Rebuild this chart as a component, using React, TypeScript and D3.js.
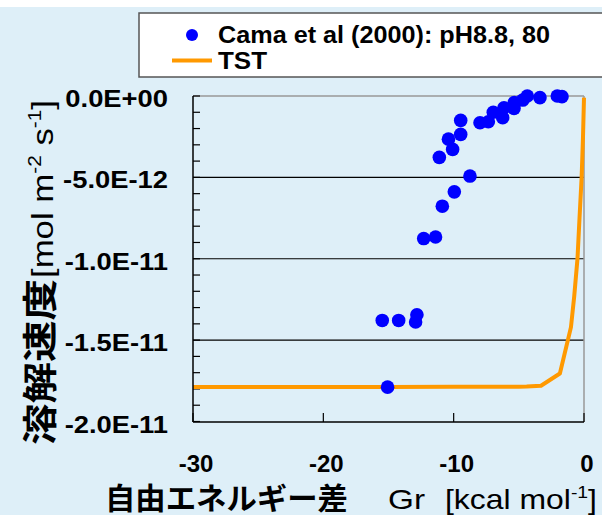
import React from 'react';
import * as d3 from 'd3';

// Cama et al (2000): pH8.8, 80 -- measured points
const camaDeltaG = [-2.05, -1.69, -3.38, -4.35, -4.7, -5.35, -5.37, -6.14, -6.24, -6.96, -7.34, -7.98,
  -9.46, -9.46, -10.4, -10.08, -11.1, -8.75, -9.95, -10.87, -11.39, -12.3, -12.82, -12.92, -14.22, -15.48, -15.07];
const camaRate = [0, -0.04e-12, -0.1e-12, 0, -0.25e-12, -0.41e-12, -0.76e-12, -0.72e-12, -1.33e-12, -1.0e-12,
  -1.58e-12, -1.64e-12, -1.5e-12, -2.36e-12, -2.65e-12, -3.28e-12, -3.77e-12, -4.92e-12, -5.89e-12, -6.77e-12,
  -8.66e-12, -8.76e-12, -13.44e-12, -13.89e-12, -13.79e-12, -13.79e-12, -17.89e-12];

// TST curve
const tstDeltaG = [-30, -25, -20, -15, -10, -5, -4.4, -3.3, -1.85, -1.0, -0.75, -0.5, -0.35, -0.18, -0.08, 0];
const tstRate = [-17.88e-12, -17.88e-12, -17.88e-12, -17.88e-12, -17.87e-12, -17.86e-12, -17.85e-12, -17.8e-12,
  -17.05e-12, -14.2e-12, -12.3e-12, -10.0e-12, -7.6e-12, -4.97e-12, -2.6e-12, -0.1e-12];

const xTicks = [-30, -20, -10, 0];
const yTicks = [0, -5e-12, -1e-11, -1.5e-11, -2e-11];
const yTickLabels = ['0.0E+00', '-5.0E-12', '-1.0E-11', '-1.5E-11', '-2.0E-11'];

const bg = '#DEEFF8';
const orange = '#FF9900';
const blue = '#0000FF';
const sans = '"Liberation Sans", Arial, sans-serif';
const cjk = '"Noto Sans CJK JP", "Liberation Sans", sans-serif';

export default function App() {
  const plot = { left: 193, right: 584, top: 96, bottom: 422 };

  const x = d3.scaleLinear().domain([-30, 0]).range([plot.left, plot.right]);
  const y = d3.scaleLinear().domain([-2e-11, 0]).range([421.5, plot.top]);

  const line = d3.line<number>()
    .x((d, i) => x(tstDeltaG[i]))
    .y(d => y(d));

  const minorTicks = d3.range(0, 21).map(i => -i * 1e-12);

  return (
    <svg width={602} height={515} style={{ position: 'absolute', left: 0, top: 0 }}
      xmlns="http://www.w3.org/2000/svg">
      <rect x={0} y={0} width={602} height={515} fill={bg} />
      <rect x={0} y={0} width={602} height={7} fill="#ffffff" />

      {/* legend */}
      <rect x={139} y={13} width={480} height={64} fill="#ffffff" stroke="#555" strokeWidth={1.5} />
      <circle cx={192} cy={35} r={6} fill={blue} />
      <line x1={172} x2={212} y1={60.5} y2={60.5} stroke={orange} strokeWidth={4} />
      <text x={218} y={43} fontFamily={sans} fontWeight="bold" fontSize={24}
        textLength={332} lengthAdjust="spacingAndGlyphs">Cama et al (2000): pH8.8, 80</text>
      <text x={218} y={69} fontFamily={sans} fontWeight="bold" fontSize={24}
        textLength={49} lengthAdjust="spacingAndGlyphs">TST</text>

      {/* gridlines */}
      {yTicks.slice(1, 4).map(t => (
        <line key={'g' + t} x1={plot.left} x2={plot.right} y1={y(t)} y2={y(t)} stroke="#000" strokeWidth={1.2} />
      ))}
      {/* plot frame */}
      <line x1={plot.left} x2={plot.right} y1={plot.top} y2={plot.top} stroke="#999" strokeWidth={1.5} />
      <line x1={plot.right} x2={plot.right} y1={plot.top} y2={plot.bottom} stroke="#999" strokeWidth={1.5} />

      {/* left axis minor ticks */}
      {minorTicks.map(t => (
        <line key={'m' + t} x1={plot.left} x2={plot.left + 7} y1={y(t)} y2={y(t)} stroke="#000" strokeWidth={1.2} />
      ))}
      {/* bottom axis ticks */}
      {xTicks.map(t => (
        <line key={'xt' + t} x1={x(t)} x2={x(t)} y1={plot.bottom} y2={plot.bottom - 9} stroke="#000" strokeWidth={1.2} />
      ))}

      {/* TST line */}
      <path d={line(tstRate) || ''} fill="none" stroke={orange} strokeWidth={4} strokeLinejoin="round" />

      {/* axes */}
      <line x1={plot.left} x2={plot.left} y1={plot.top} y2={plot.bottom} stroke="#000" strokeWidth={1.5} />
      <line x1={plot.left} x2={plot.right} y1={plot.bottom} y2={plot.bottom} stroke="#000" strokeWidth={1.5} />

      {/* data points */}
      {camaRate.map((v, i) => (
        <circle key={'p' + i} cx={x(camaDeltaG[i])} cy={y(v)} r={6.8} fill={blue} />
      ))}

      {/* y tick labels */}
      {yTicks.map((t, i) => (
        <g key={'yl' + t} transform={`translate(168,${y(t) + 11}) scale(1.14,1)`}>
          <text x={0} y={0} textAnchor="end" fontFamily={sans} fontWeight="bold" fontSize={24}>{yTickLabels[i]}</text>
        </g>
      ))}
      {/* x tick labels */}
      {xTicks.map(t => (
        <text key={'xl' + t} x={x(t) + 3} y={472} textAnchor="middle" fontFamily={sans} fontWeight="bold" fontSize={24}>{t}</text>
      ))}

      {/* x axis title */}
      <text x={105} y={509} fontFamily={cjk} fontWeight="bold" fontSize={30}
        textLength={243} lengthAdjust="spacingAndGlyphs">自由エネルギー差</text>
      <text x={388} y={509} fontFamily={sans} fontSize={28}
        textLength={37} lengthAdjust="spacingAndGlyphs">Gr</text>
      <text x={445} y={509} fontFamily={sans} fontSize={28}
        textLength={152} lengthAdjust="spacingAndGlyphs">
        [kcal mol<tspan dy={-11} fontSize={17}>-1</tspan><tspan dy={11}>]</tspan>
      </text>

      {/* y axis title */}
      <g transform="translate(53,445) rotate(-90)">
        <text x={0} y={0} fontFamily={cjk} fontWeight="bold" fontSize={35}
          textLength={166} lengthAdjust="spacingAndGlyphs">溶解速度</text>
        <text x={167} y={0} fontFamily={sans} fontSize={30}
          textLength={178} lengthAdjust="spacingAndGlyphs">
          [mol m<tspan dy={-12} fontSize={18}>-2</tspan><tspan dy={12}> s</tspan><tspan dy={-12} fontSize={18}>-1</tspan><tspan dy={12}>]</tspan>
        </text>
      </g>
    </svg>
  );
}
